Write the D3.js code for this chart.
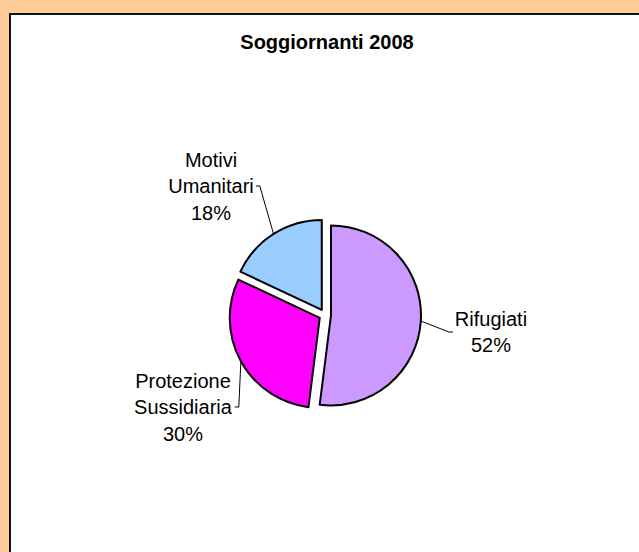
<!DOCTYPE html>
<html>
<head>
<meta charset="utf-8">
<script src="https://cdn.jsdelivr.net/npm/d3@7"></script>
<style>
  body { margin: 0; background: #FFCC99; }
  text { font-family: "Liberation Sans", Arial, sans-serif; fill: #000; }
</style>
</head>
<body>
<script>
var svg_width  = 639;
var svg_height = 552;

// data
var title = "Soggiornanti 2008";
var categories = ["Rifugiati", "Protezione Sussidiaria", "Motivi Umanitari"];
var labelLines = [["Rifugiati"], ["Protezione", "Sussidiaria"], ["Motivi", "Umanitari"]];
var values = [52, 30, 18];
var colors = ["#CC99FF", "#FF00FF", "#99CCFF"];

// layout
var cx = 325, cy = 315, radius = 90, explode = 6;
// label block centres, relative to pie centre
var labelOffsets = [[166, 17], [-142, 92], [-114, -129]];
var lineGap = 26.5;

var svg = d3.select('body').append('svg')
            .attr('width', svg_width)
            .attr('height', svg_height);

svg.append("rect")
   .attr("x", 10).attr("y", 14)
   .attr("width", 700).attr("height", 700)
   .attr("fill", "#fff")
   .attr("stroke", "#111")
   .attr("stroke-width", 2);

svg.append("text")
   .attr("x", 327).attr("y", 49)
   .attr("text-anchor", "middle")
   .style("font-weight", "bold")
   .style("font-size", "20px")
   .text(title);

var pie = d3.pie().sort(null).value(d => d);
var arcs = pie(values);
var arc = d3.arc().innerRadius(0).outerRadius(radius);

var total = d3.sum(values);
var pct = d3.format(".0%");

var g = svg.append("g").attr("transform", "translate(" + cx + "," + cy + ")");

function polar(a, r) { return [Math.sin(a) * r, -Math.cos(a) * r]; }

arcs.forEach(function(d, i) {
    var mid = (d.startAngle + d.endAngle) / 2;
    var off = polar(mid, explode);
    g.append("path")
     .attr("d", arc(d))
     .attr("transform", "translate(" + off[0] + "," + off[1] + ")")
     .attr("fill", colors[i])
     .attr("stroke", "#000")
     .attr("stroke-width", 2)
     .attr("stroke-linejoin", "round");

    // label
    var lines = labelLines[i].concat([pct(values[i] / total)]);
    var lx = labelOffsets[i][0], ly = labelOffsets[i][1];
    var t = g.append("text")
             .attr("text-anchor", "middle")
             .style("font-size", "20px");
    var n = lines.length;
    lines.forEach(function(s, k) {
        t.append("tspan")
         .attr("x", lx)
         .attr("y", ly + (k - (n - 1) / 2) * lineGap + 7)
         .text(s);
    });
    var bb = t.node().getBBox();

    // leader line: pie edge -> side of label block
    var edge = polar(mid, radius + explode);
    var side = lx > 0 ? bb.x - 2 : bb.x + bb.width + 2;
    var tick = lx > 0 ? side - 4 : side + 4;
    g.append("path")
     .attr("d", "M" + edge[0] + "," + edge[1] + "L" + tick + "," + ly + "L" + side + "," + ly)
     .attr("fill", "none")
     .attr("stroke", "#000")
     .attr("stroke-width", 1);
});
</script>
</body>
</html>
